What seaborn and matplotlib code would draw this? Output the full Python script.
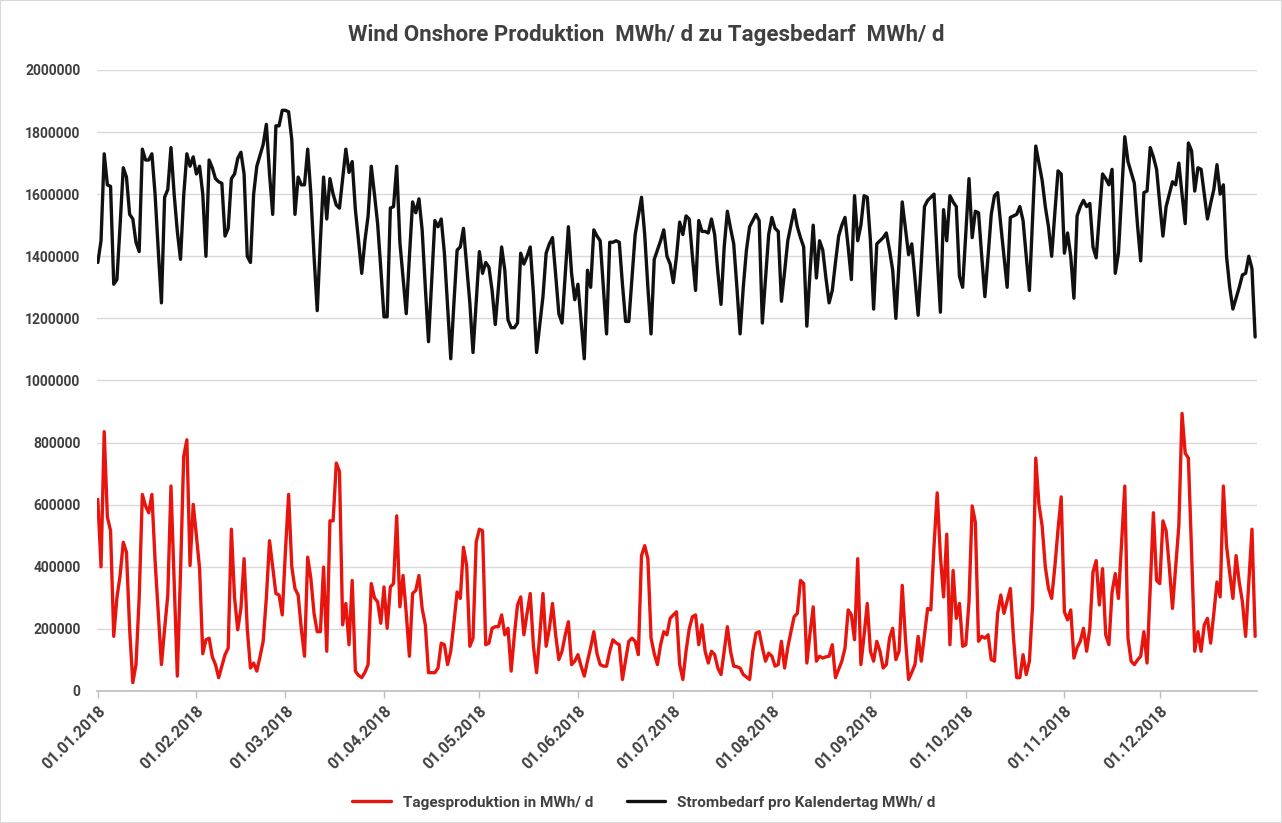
import pandas as pd
import seaborn as sns
import matplotlib.pyplot as plt
from matplotlib.patches import Rectangle

# daily values in 1000 MWh
demand_jan = [1380, 1450, 1730, 1630, 1625, 1310, 1325, 1500, 1685, 1655, 1535, 1520, 1445, 1415, 1745, 1710, 1710, 1730, 1600, 1420, 1250, 1590, 1615, 1750, 1600, 1480, 1390, 1595, 1730, 1690, 1720]
demand_feb = [1665, 1690, 1600, 1400, 1710, 1685, 1650, 1640, 1635, 1465, 1490, 1650, 1665, 1715, 1735, 1665, 1400, 1380, 1600, 1690, 1725, 1760, 1825, 1665, 1535, 1820, 1820, 1870]
demand_mar = [1870, 1865, 1775, 1535, 1655, 1630, 1630, 1745, 1600, 1400, 1225, 1450, 1655, 1520, 1650, 1600, 1565, 1555, 1650, 1745, 1670, 1705, 1550, 1450, 1345, 1450, 1530, 1690, 1600, 1505, 1360]
demand_apr = [1205, 1205, 1555, 1560, 1690, 1445, 1330, 1215, 1400, 1575, 1540, 1585, 1485, 1300, 1125, 1320, 1515, 1495, 1520, 1410, 1240, 1070, 1250, 1420, 1430, 1490, 1370, 1250, 1090, 1250]
demand_may = [1415, 1345, 1380, 1365, 1290, 1180, 1300, 1430, 1355, 1195, 1170, 1170, 1185, 1410, 1375, 1400, 1430, 1280, 1090, 1180, 1270, 1410, 1440, 1460, 1340, 1215, 1185, 1340, 1495, 1345, 1260]
demand_jun = [1310, 1190, 1070, 1355, 1300, 1485, 1465, 1450, 1300, 1150, 1445, 1445, 1450, 1445, 1310, 1190, 1190, 1330, 1470, 1530, 1590, 1470, 1300, 1150, 1390, 1420, 1450, 1485, 1400, 1375]
demand_jul = [1315, 1400, 1510, 1470, 1530, 1520, 1400, 1290, 1515, 1480, 1480, 1475, 1520, 1470, 1350, 1245, 1430, 1545, 1490, 1440, 1300, 1150, 1300, 1420, 1495, 1515, 1535, 1515, 1185, 1330, 1470]
demand_aug = [1525, 1490, 1480, 1255, 1350, 1450, 1500, 1550, 1495, 1460, 1430, 1175, 1350, 1500, 1330, 1450, 1420, 1330, 1250, 1290, 1380, 1465, 1500, 1525, 1430, 1325, 1595, 1450, 1500, 1595, 1590]
demand_sep = [1450, 1230, 1440, 1450, 1460, 1475, 1420, 1355, 1200, 1380, 1575, 1490, 1405, 1440, 1330, 1210, 1380, 1560, 1580, 1590, 1600, 1400, 1220, 1550, 1450, 1595, 1575, 1560, 1335, 1300]
demand_oct = [1475, 1650, 1460, 1545, 1540, 1400, 1270, 1400, 1535, 1595, 1605, 1500, 1400, 1300, 1525, 1530, 1535, 1560, 1515, 1400, 1290, 1520, 1755, 1700, 1645, 1560, 1495, 1400, 1540, 1675, 1665]
demand_nov = [1410, 1475, 1400, 1265, 1530, 1560, 1580, 1560, 1570, 1430, 1395, 1530, 1665, 1650, 1630, 1680, 1345, 1410, 1600, 1785, 1705, 1670, 1635, 1500, 1385, 1605, 1610, 1750, 1720, 1680]
demand_dec = [1570, 1465, 1560, 1600, 1640, 1630, 1700, 1600, 1505, 1765, 1740, 1610, 1685, 1680, 1600, 1520, 1570, 1615, 1695, 1600, 1630, 1400, 1300, 1230, 1265, 1300, 1340, 1345, 1400, 1360, 1140]

wind_jan = [617, 400, 835, 560, 516, 176, 300, 372, 479, 447, 200, 27, 85, 300, 633, 596, 574, 633, 420, 255, 85, 200, 309, 660, 350, 48, 380, 755, 809, 404, 601]
wind_feb = [500, 394, 120, 165, 170, 110, 85, 43, 80, 117, 138, 521, 300, 197, 266, 426, 200, 74, 90, 64, 110, 160, 300, 484, 400, 314, 309, 245]
wind_mar = [450, 633, 400, 330, 309, 200, 112, 431, 362, 250, 191, 191, 399, 128, 548, 548, 734, 707, 213, 282, 149, 356, 64, 50, 43, 60, 85, 346, 300, 287, 218]
wind_apr = [335, 202, 335, 346, 564, 271, 372, 250, 112, 314, 324, 372, 266, 213, 59, 59, 59, 74, 154, 149, 85, 128, 220, 319, 298, 463, 404, 144, 170, 480]
wind_may = [521, 516, 149, 154, 202, 207, 207, 245, 181, 202, 64, 180, 277, 303, 181, 250, 314, 144, 59, 180, 314, 144, 200, 282, 180, 101, 128, 180, 223, 85, 96]
wind_jun = [117, 80, 48, 96, 140, 191, 120, 85, 80, 80, 128, 165, 155, 149, 37, 100, 160, 170, 160, 117, 436, 468, 426, 170, 120, 85, 149, 191, 181, 234]
wind_jul = [245, 255, 85, 37, 128, 200, 239, 245, 149, 213, 128, 90, 128, 117, 74, 53, 128, 207, 128, 80, 78, 74, 53, 45, 37, 128, 186, 191, 140, 96, 122]
wind_aug = [112, 80, 85, 160, 74, 140, 191, 239, 250, 356, 346, 90, 186, 271, 96, 112, 106, 110, 112, 149, 43, 70, 96, 138, 261, 245, 165, 426, 85, 180, 282]
wind_sep = [128, 96, 160, 128, 74, 85, 170, 202, 101, 128, 340, 170, 37, 60, 85, 176, 96, 180, 266, 261, 468, 638, 436, 303, 505, 149, 388, 234, 282, 144]
wind_oct = [149, 287, 596, 543, 160, 176, 170, 181, 101, 96, 250, 309, 250, 290, 330, 170, 43, 43, 117, 53, 96, 277, 750, 600, 532, 400, 330, 298, 400, 520, 625]
wind_nov = [255, 229, 261, 106, 140, 160, 202, 128, 202, 383, 420, 277, 394, 181, 149, 319, 378, 298, 480, 660, 170, 96, 85, 100, 112, 191, 90, 330, 574, 356]
wind_dec = [346, 548, 516, 400, 266, 400, 532, 894, 766, 750, 450, 128, 191, 128, 213, 234, 154, 250, 351, 303, 660, 468, 380, 298, 436, 350, 287, 176, 350, 521, 176]

month_labels = ['01.01.2018', '01.02.2018', '01.03.2018', '01.04.2018', '01.05.2018', '01.06.2018',
                '01.07.2018', '01.08.2018', '01.09.2018', '01.10.2018', '01.11.2018', '01.12.2018']

demand = (demand_jan + demand_feb + demand_mar + demand_apr + demand_may + demand_jun
          + demand_jul + demand_aug + demand_sep + demand_oct + demand_nov + demand_dec)
wind = (wind_jan + wind_feb + wind_mar + wind_apr + wind_may + wind_jun
        + wind_jul + wind_aug + wind_sep + wind_oct + wind_nov + wind_dec)

df = pd.DataFrame({
    'Datum': pd.date_range('2018-01-01', periods=len(demand), freq='D'),
    'Bedarf': [v * 1000 for v in demand],
    'Wind': [v * 1000 for v in wind],
})

sns.set_theme(style='white')
plt.rcParams['font.family'] = ['Roboto', 'DejaVu Sans']
text_col = '#404040'

fig = plt.figure(figsize=(12.82, 8.23), dpi=100)
ax = fig.add_axes([0.0757, 0.1604, 0.9048, 0.7546])

sns.lineplot(data=df, x='Datum', y='Wind', color='#e8150f', linewidth=2.4,
             label='Tagesproduktion in MWh/ d', ax=ax)
sns.lineplot(data=df, x='Datum', y='Bedarf', color='#111111', linewidth=2.4,
             label='Strombedarf pro Kalendertag MWh/ d', ax=ax)

ax.set_ylim(0, 2000000)
ax.set_yticks(range(0, 2000001, 200000))
ax.set_yticklabels([str(v) for v in range(0, 2000001, 200000)],
                   fontsize=10, fontweight='bold', color=text_col)
ax.set_xlim(df['Datum'].iloc[0] - pd.Timedelta(hours=6), df['Datum'].iloc[-1] + pd.Timedelta(hours=14))
month_starts = pd.date_range('2018-01-01', periods=12, freq='MS')
ax.set_xticks(month_starts)
ax.set_xticklabels(month_labels, rotation=45, ha='right', rotation_mode='anchor',
                   fontsize=11.5, fontweight='bold', color=text_col)
ax.tick_params(axis='y', length=0, pad=12)
ax.tick_params(axis='x', length=5, width=1, color='#bfbfbf', pad=4, bottom=True)

ax.grid(axis='y', color='#d9d9d9', linewidth=1)
ax.grid(axis='x', visible=False)
for side in ['left', 'right', 'top']:
    ax.spines[side].set_visible(False)
ax.spines['bottom'].set_color('#bfbfbf')
ax.set_xlabel('')
ax.set_ylabel('')

fig.suptitle('Wind Onshore Produktion  MWh/ d zu Tagesbedarf  MWh/ d',
             x=0.504, y=0.957, va='center', fontsize=16, fontweight='bold', color=text_col)

leg = ax.legend(loc='center', bbox_to_anchor=(0.4716, -0.18), ncol=2, frameon=False,
                fontsize=11, handlelength=2.5, columnspacing=2.2)
for t in leg.get_texts():
    t.set_color(text_col)
    t.set_fontweight('bold')

fig.patches.append(Rectangle((0, 0), 1, 1, transform=fig.transFigure, fill=False,
                             edgecolor='#d9d9d9', linewidth=1.5))

fig.savefig('out.png', dpi=100)
